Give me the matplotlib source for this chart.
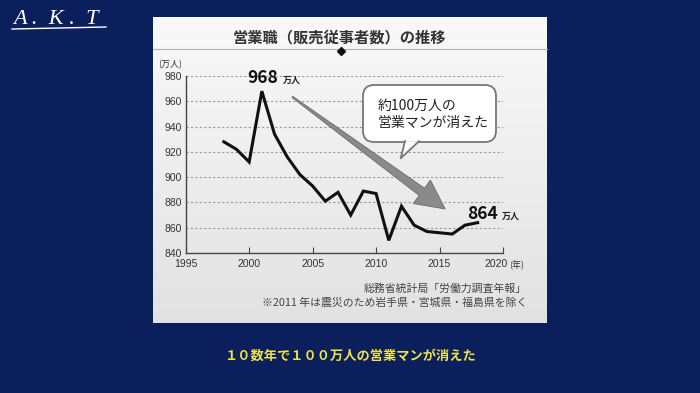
import numpy as np
import matplotlib
matplotlib.use('Agg')
import matplotlib.pyplot as plt
from matplotlib.patches import FancyBboxPatch, Polygon
from matplotlib.colors import LinearSegmentedColormap
from matplotlib.transforms import ScaledTranslation

plt.rcParams['font.family'] = ['Noto Sans CJK JP', 'DejaVu Sans']

# data (万人)
years = [1998, 1999, 2000, 2001, 2002, 2003, 2004, 2005, 2006, 2007, 2008,
         2009, 2010, 2011, 2012, 2013, 2014, 2015, 2016, 2017, 2018]
workers = [928, 922, 912, 968, 934, 916, 902, 893, 881, 888, 870,
           889, 887, 850, 877, 862, 857, 856, 855, 862, 864]
x_ticks = [1995, 2000, 2005, 2010, 2015, 2020]
y_ticks = [840, 860, 880, 900, 920, 940, 960, 980]

# arrow drawn over the chart, in data units (year, 万人)
arrow_start = (2003.4, 963.5)
arrow_end = (2015.45, 874.8)

title = '営業職（販売従事者数）の推移'
bubble_text = '約100万人の\n営業マンが消えた'
source_lines = ['総務省統計局「労働力調査年報」',
                '※2011 年は震災のため岩手県・宮城県・福島県を除く']
caption = '１０数年で１００万人の営業マンが消えた'

navy = '#0b1f5c'
W, H = 700, 393

fig = plt.figure(figsize=(7, 3.93), dpi=100, facecolor=navy)

# background layer in pixel coords
bg = fig.add_axes([0, 0, 1, 1], zorder=0)
bg.axis('off')
bg.patch.set_alpha(0)
cmap = LinearSegmentedColormap.from_list('panel', ['#f9f9f9', '#e2e2e2'])
bg.imshow(np.linspace(0, 1, 200)[:, None], extent=(153, 547, 323, 17),
          cmap=cmap, aspect='auto', zorder=0)
bg.set_xlim(0, W)
bg.set_ylim(H, 0)

# chart axes
ax = fig.add_axes([185.7 / W, 140 / H, 317.3 / W, 177 / H], zorder=1)
ax.patch.set_alpha(0)
ax.plot(years, workers, color='#111111', lw=2.2, solid_joinstyle='miter', zorder=3)
ax.set_xlim(1995, 2020)
ax.set_ylim(840, 980)
ax.set_xticks(x_ticks)
ax.set_yticks(y_ticks)
ax.yaxis.grid(True, linestyle=(0, (2, 2)), color='#9a9a9a', lw=0.8)
for s in ['top', 'right']:
    ax.spines[s].set_visible(False)
for s in ['left', 'bottom']:
    ax.spines[s].set_color('#444444')
    ax.spines[s].set_linewidth(1.0)
ax.tick_params(axis='x', direction='in', length=4, color='#444444', pad=4,
               labelsize=7.5, labelcolor='#333333')
ax.tick_params(axis='y', length=0, pad=3, labelsize=7.5, labelcolor='#333333')
for lab in ax.get_xticklabels() + ax.get_yticklabels():
    lab.set_family('Liberation Sans')
last = ax.get_xticklabels()[-1]
last.set_transform(last.get_transform() + ScaledTranslation(-0.07, 0, fig.dpi_scale_trans))

# foreground layer in pixel coords
fg = fig.add_axes([0, 0, 1, 1], zorder=2)
fg.set_xlim(0, W)
fg.set_ylim(H, 0)
fg.axis('off')
fg.patch.set_alpha(0)

# tapered arrow: thin at the start, widening toward a triangular head
to_px = ax.transData + fg.transData.inverted()
S = np.array(to_px.transform(arrow_start))
T = np.array(to_px.transform(arrow_end))
d = (T - S) / np.hypot(*(T - S))
n = np.array([-d[1], d[0]])
B = T - d * 29
shape = [S + n * 0.7, B + n * 4.5, B + n * 14.5, T,
         B - n * 14.5, B - n * 4.5, S - n * 0.7]
fg.add_patch(Polygon(shape, closed=True, fc='#8a8a8a', ec='#6c6c6c', lw=0.6, zorder=1))

fg.text(340, 37.5, title, ha='center', va='center', fontsize=11,
        fontweight='bold', color='#333333')
fg.plot([153, 547], [49, 49], color='#b0b0b0', lw=0.8)
fg.plot([341], [51], marker='D', ms=4.5, color='#111111')

fg.text(170, 65, '(万人)', ha='center', va='center', fontsize=6.5, color='#333333')
fg.text(509, 265.5, '(年)', ha='left', va='center', fontsize=6.5, color='#333333')

fg.text(278, 78, '968', ha='right', va='center', fontsize=12.5,
        fontweight='bold', color='#111111')
fg.text(283, 80, '万人', ha='left', va='center', fontsize=6.5,
        fontweight='bold', color='#222222')
fg.text(498, 214, '864', ha='right', va='center', fontsize=12.5,
        fontweight='bold', color='#111111')
fg.text(502, 216, '万人', ha='left', va='center', fontsize=6.5,
        fontweight='bold', color='#222222')

# speech bubble
box = FancyBboxPatch((363, 85), 133, 57, boxstyle='round,pad=0,rounding_size=11',
                     fc='white', ec='#777777', lw=1.3, zorder=4)
fg.add_patch(box)
tail = [(405, 141.2), (400.7, 158.3), (419, 141.2)]
fg.add_patch(Polygon(tail, closed=True, fc='white', ec='none', zorder=5))
fg.plot([tail[0][0], tail[1][0], tail[2][0]], [tail[0][1], tail[1][1], tail[2][1]],
        color='#777777', lw=1.3, zorder=6)
fg.text(377.5, 114.5, bubble_text, ha='left', va='center', fontsize=10,
        linespacing=1.27, color='#222222', zorder=7)

fg.text(527, 289, source_lines[0], ha='right', va='center', fontsize=7.8, color='#444444')
fg.text(527, 303, source_lines[1], ha='right', va='center', fontsize=7.8, color='#444444')

fg.text(350, 356, caption, ha='center', va='center', fontsize=9.5,
        fontweight='bold', color='#efe14a')

# logo
fg.text(13, 19, 'A .  K .  T', ha='left', va='center', fontsize=16,
        family='Liberation Serif', style='italic', color='white')
fg.plot([12, 106], [29, 27], color='white', lw=1.0)

fig.savefig('out.png', dpi=100, facecolor=navy)
